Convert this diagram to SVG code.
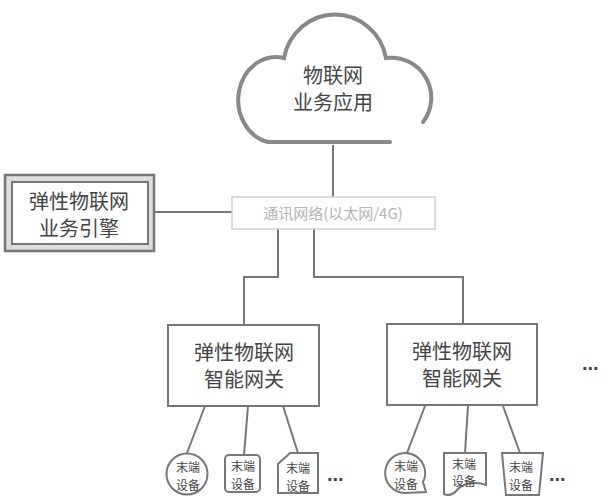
<svg xmlns="http://www.w3.org/2000/svg" width="608" height="500" viewBox="0 0 608 500">
<style>
  text { font-family: "Noto Sans CJK SC", "Noto Sans", sans-serif; fill: #444; text-anchor: middle; }
  .big { font-size: 20px; }
  .cloudt { font-size: 20px; }
  .net { font-size: 15px; fill: #b5b5b5; }
  .dev { font-size: 12px; }
  .box { fill: #fff; stroke: #777; stroke-width: 2; }
  .line { fill: none; stroke: #777; stroke-width: 2; }
  .dots { font-size: 20px; font-weight: bold; fill: #444; text-anchor: start; font-family: "Liberation Sans", sans-serif; }
</style>
<rect width="608" height="500" fill="#fff"/>
<g id="connectors">
  <path class="line" d="M333,145 V197"/>
  <path class="line" d="M154,212 H232"/>
  <path class="line" d="M278,229 V277 H244 V325"/>
  <path class="line" d="M314,229 V277 H463 V324"/>
  <path class="line" d="M205,406 L187,453"/>
  <path class="line" d="M248,406 L244,455"/>
  <path class="line" d="M283,406 L298,453"/>
  <path class="line" d="M425,406 L407,453"/>
  <path class="line" d="M468,406 L465,453"/>
  <path class="line" d="M503,406 L520,453"/>
</g>
<g id="cloud">
  <path fill="none" stroke="#888" stroke-width="4" stroke-linecap="round" d="M390,142 H268 A36,41 0 0 1 284,58 A52,54 0 0 1 386,58 A40,40 0 0 1 423,122"/>
  <text class="cloudt" x="333" y="83">物联网</text>
  <text class="cloudt" x="333" y="110">业务应用</text>
</g>
<g id="engine">
  <rect x="5" y="175" width="149" height="76" fill="#ddd" stroke="#777" stroke-width="2.5"/>
  <rect x="12" y="182" width="136" height="62" fill="#fff" stroke="#777" stroke-width="2"/>
  <text class="big" x="79" y="209">弹性物联网</text>
  <text class="big" x="79" y="236">业务引擎</text>
</g>
<g id="network">
  <rect x="232" y="197" width="203" height="32" fill="#fff" stroke="#d0d0d0" stroke-width="1.5"/>
  <text class="net" x="333" y="219">通讯网络(以太网/4G)</text>
</g>
<g id="gateway1">
  <rect class="box" x="168" y="325" width="151" height="81"/>
  <text class="big" x="244" y="360">弹性物联网</text>
  <text class="big" x="244" y="387">智能网关</text>
</g>
<g id="gateway2">
  <rect class="box" x="387" y="324" width="150" height="81"/>
  <text class="big" x="462" y="359">弹性物联网</text>
  <text class="big" x="462" y="386">智能网关</text>
</g>
<g id="more-gateways">
  <text class="dots" x="582" y="370">...</text>
</g>
<g id="device1">
  <circle cx="187" cy="474" r="20.5" class="box"/>
  <text class="dev" x="188" y="472">末端</text>
  <text class="dev" x="188" y="490">设备</text>
</g>
<g id="device2">
  <rect class="box" x="225" y="455" width="35" height="37" rx="4"/>
  <text class="dev" x="243" y="471">末端</text>
  <text class="dev" x="243" y="489">设备</text>
</g>
<g id="device3">
  <path class="box" d="M290,453 H318 V493 H278 V464 Z"/>
  <text class="dev" x="298" y="473">末端</text>
  <text class="dev" x="298" y="491">设备</text>
</g>
<g id="more-devices1">
  <text class="dots" x="327" y="481">...</text>
</g>
<g id="device4">
  <path class="box" d="M405,493 A20,20 0 1 1 423,482 L426,492 Z"/>
  <text class="dev" x="406" y="471">末端</text>
  <text class="dev" x="406" y="489">设备</text>
</g>
<g id="device5">
  <path class="box" d="M444,453 H486 V485 C476,481 464,483 458,489 C453,495 448,496 444,494 Z"/>
  <text class="dev" x="464" y="469">末端</text>
  <text class="dev" x="464" y="486">设备</text>
</g>
<g id="device6">
  <path class="box" d="M502,453 H543 L539,495 H506 Z"/>
  <text class="dev" x="521" y="472">末端</text>
  <text class="dev" x="521" y="490">设备</text>
</g>
<g id="more-devices2">
  <text class="dots" x="549" y="481">...</text>
</g>
</svg>
